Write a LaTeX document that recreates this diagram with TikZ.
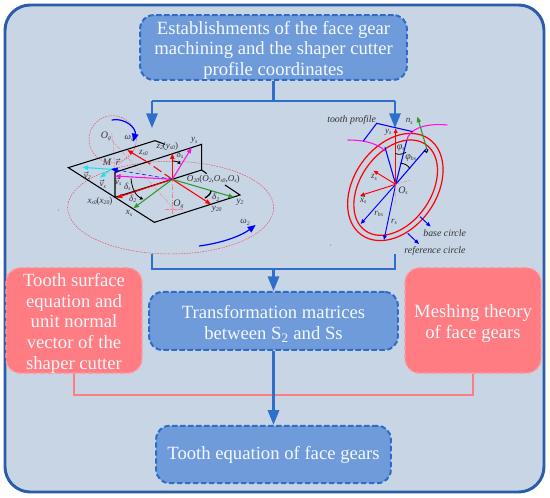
\documentclass[tikz,border=0pt]{standalone}
\usepackage{fontspec}
\setmainfont{Liberation Serif}
\usetikzlibrary{arrows.meta,calc}
\definecolor{panel}{HTML}{C8D5E5}
\definecolor{panelline}{HTML}{2A5CA8}
\definecolor{boxfill}{HTML}{6F9BDB}
\definecolor{boxline}{HTML}{2E6CC8}
\definecolor{redfill}{HTML}{FF7C82}
\definecolor{redline}{HTML}{FF9CA0}
\definecolor{link}{HTML}{2F6FCC}
\definecolor{boxtext}{HTML}{F5F8FC}
\definecolor{dgreen}{HTML}{2E9A2E}
\definecolor{vcyan}{HTML}{10E8F0}
\definecolor{vmag}{HTML}{FF10E0}
\definecolor{guidered}{HTML}{F04A5A}
\newcommand{\lb}[2]{\textit{#1}\raisebox{-0.3ex}{\fontsize{4.3}{5}\selectfont\textit{#2}}}
\newcommand{\arw}[1]{$\vec{\mbox{\textit{#1}}}$}
\newcommand{\fl}{\rule{0pt}{14pt}}
\tikzset{
  bluebox/.style={draw=boxline,fill=boxfill,line width=1.5pt,dash pattern=on 4pt off 2pt,rounded corners=10pt,
    text=boxtext,align=center,inner sep=0pt,font=\fontsize{14}{15.4}\selectfont},
  redbox/.style={draw=redline,fill=redfill,line width=1pt,dash pattern=on 4pt off 2pt,rounded corners=11pt,
    text=boxtext,align=center,inner sep=0pt,font=\fontsize{14}{15.5}\selectfont,minimum width=102pt,minimum height=79pt},
  flow/.style={draw=link,line width=1.6pt},
  flowarrow/.style={flow,-{Triangle[length=11pt,width=8.5pt]}},
  redlink/.style={draw=redfill,line width=1.3pt},
  heavy/.style={draw=black,line width=0.8pt},
  guide/.style={draw=guidered,line width=0.35pt,dash pattern=on 1.2pt off 0.8pt},
  centre/.style={draw=guidered!70,line width=0.3pt,dash pattern=on 3pt off 1pt on 1pt off 1pt},
  vec/.style={line width=0.8pt,-{Triangle[length=4.2pt,width=3.2pt]}},
  thin vec/.style={line width=0.7pt,-{Triangle[length=3.5pt,width=2.8pt]}},
  lab/.style={inner sep=0pt,font=\fontsize{6.8}{7}\selectfont,text=black!80},
  angle mark/.style={draw=black,line width=0.6pt,-{Triangle[length=2.5pt,width=2.5pt]}},
}
\begin{document}
\begin{tikzpicture}[x=0.75pt,y=-0.75pt]
\useasboundingbox (0,0) rectangle (550,498);
\fill[white] (0,0) rectangle (550,498);
\draw[draw=panelline,fill=panel,line width=2.2pt,rounded corners=19pt] (5,5) rectangle (544,492);

% boxes
\node[bluebox,minimum width=200pt,minimum height=48.5pt] (top) at (273.5,47.5) {\fl Establishments of the face gear\\machining and the shaper cutter\\profile coordinates};
\node[bluebox,minimum width=186.5pt,minimum height=43.5pt] (mid) at (273.5,321) {\fl Transformation matrices\\between S\textsubscript{2} and Ss};
\node[bluebox,minimum width=176pt,minimum height=43pt] (bot) at (273.5,454.5) {Tooth equation of face gears};
\node[redbox] (lred) at (74,320.5) {\fl Tooth surface\\equation and\\unit normal\\vector of the\\shaper cutter};
\node[redbox] (rred) at (473,320.5) {\fl Meshing theory\\of face gears};

% connectors
\coordinate (split) at (273.5,101);
\coordinate (splitL) at (152,101);
\coordinate (splitR) at (395,101);
\coordinate (tipL) at (152,128);
\coordinate (tipR) at (395,128);
\coordinate (fromL) at (152,254);
\coordinate (fromR) at (395,254);
\coordinate (joinL) at (152,269);
\coordinate (joinR) at (395,269);
\coordinate (join) at (273.5,269);
\coordinate (redL) at (lred.south |- 0,395);
\coordinate (redR) at (rred.south |- 0,395);
\draw[redlink] (lred.south) -- (redL) -- (redR) -- (rred.south);
\draw[flow] (top.south) -- (split);
\draw[flow] (splitL) -- (splitR);
\draw[flowarrow] (splitL) -- (tipL);
\draw[flowarrow] (splitR) -- (tipR);
\draw[flow] (fromL) -- (joinL) -- (joinR) -- (fromR);
\draw[flowarrow] (join) -- (mid.north);
\draw[flowarrow] (mid.south) -- (bot.north);

% left drawing, in 3x zoom coordinates
\begin{scope}[shift={(50,110)},x=0.25pt,y=-0.25pt]
  \draw[guide] (362,293) ellipse [x radius=309,y radius=139];
  \draw[guide] (188,88) circle [radius=71];
  \draw[centre] (367,205) -- (367,312);
  \draw[centre] (185,70) -- (190,100) -- (195,195);
  \draw[centre] (185,90) -- (375,300);
  \draw[centre] (205,165) -- (262,110);
  \draw[centre] (345,298) -- (400,298);
  \draw[heavy] (345,103) -- (315,92) -- (55,173) -- (313,337) -- (570,255) -- (525,225);
  \draw[heavy] (470,191) -- (455,180) -- (455,103) -- (195,187) -- (195,262) -- (455,180);
  \draw[red,line width=0.8pt,dash pattern=on 7pt off 3pt] (367,208) -- (290,155);
  \draw[red,vec] (290,155) -- (232,120);
  \draw[red,vec] (367,208) -- (367,130);
  \draw[vmag,vec] (367,208) -- (425,113);
  \draw[vmag,vec] (367,208) -- (195,198);
  \draw[red,vec] (367,208) -- (200,263);
  \draw[dgreen,vec] (367,208) -- (250,295);
  \draw[red,vec] (367,208) -- (483,283);
  \draw[dgreen,vec] (367,208) -- (552,262);
  \draw[blue,line width=0.4pt,densely dashed,-{Triangle[length=5pt,width=4pt]}] (367,208) -- (183,177);
  \draw[vcyan,vec] (183,178) -- (97,172);
  \draw[vcyan,vec] (183,178) -- (150,203);
  \draw[blue,line width=0.9pt,-{Triangle[length=6pt,width=5pt]}] (447,408) .. controls (510,400) and (570,380) .. (617,345);
  \draw[blue,line width=0.9pt,-{Triangle[length=6pt,width=5pt]}] (185,30) .. controls (225,22) and (260,55) .. (250,95);
  \draw[angle mark] (367,153) .. controls (378,153) and (386,157) .. (392,163);
  \draw[angle mark] (243,205) .. controls (245,235) and (258,258) .. (280,268);
  \draw[draw=black,line width=1pt] (465,264) .. controls (475,258) and (483,250) .. (483,243);
  \node[lab] (l1) at (352,108) {\lb{z}{2}(\lb{y}{s0})};
  \node[lab] (l2) at (433,92) {\lb{y}{s}};
  \node[lab] (l3) at (490,208) {\lb{O}{20}(\lb{O}{2},\lb{O}{s0},\lb{O}{s})};
  \node[lab] (l4) at (150,274) {\lb{x}{s0}(\lb{x}{20})};
  \node[lab] (l5) at (237,310) {\lb{x}{s}};
  \node[lab] (l6) at (500,298) {\lb{y}{20}};
  \node[lab] (l7) at (570,276) {\lb{y}{2}};
  \node[lab] (l8) at (585,337) {\lb{ω}{2}};
  \node[lab] (l9) at (172,156) {\fontsize{7.5}{8}\selectfont\textit{M}};
  \node[lab] (l10) at (203,157) {\arw{r}};
  \node[lab] (l11) at (112,197) {\arw{v}\raisebox{-0.3ex}{\fontsize{4.3}{5}\selectfont\textit{2}}};
  \node[lab] (l12) at (158,222) {\arw{v}\raisebox{-0.3ex}{\fontsize{4.3}{5}\selectfont\textit{s}}};
  \node[lab] (l13) at (205,215) {\arw{v}\raisebox{-0.3ex}{\fontsize{4.3}{5}\selectfont\textit{s}}};
  \node[lab] (l14) at (232,231) {\lb{δ}{s}};
  \node[lab] (l15) at (248,266) {\lb{δ}{2}};
  \node[lab] (l16) at (497,262) {\lb{δ}{2}};
  \node[lab] (l17) at (390,135) {\lb{δ}{s}};
  \node[lab] (l18) at (168,78) {\fontsize{7.5}{8}\selectfont\lb{O}{g}};
  \node[lab] (l19) at (385,282) {\fontsize{7.5}{8}\selectfont\lb{O}{g}};
  \node[lab] (l20) at (237,85) {\lb{ω}{s}};
  \node[lab] (l21) at (280,128) {\lb{z}{s0}};
  \fill (25,300) circle [radius=1.2];
\end{scope}

% right drawing, in 3x zoom coordinates
\begin{scope}[shift={(310,120)},x=0.25pt,y=-0.25pt]
  \draw[red,line width=0.9pt,rotate around={55:(256,201)}] (256,201) ellipse [x radius=176,y radius=124];
  \draw[red,line width=0.9pt,rotate around={55:(257,203)}] (257,203) ellipse [x radius=158,y radius=106];
  \draw[vmag,line width=0.8pt] (113,60) .. controls (150,60) and (195,65) .. (225,92);
  \draw[vmag,line width=0.8pt] (290,62) .. controls (295,30) and (340,8) .. (412,15);
  \draw[blue,line width=0.8pt] (160,63) -- (200,10) -- (308,35);
  \draw[blue,line width=0.8pt] (225,82) -- (257,193);
  \draw[blue,line width=0.8pt] (290,62) -- (257,193);
  \draw[blue,thin vec] (257,193) -- (222,360);
  \draw[blue,line width=0.8pt] (350,85) -- (257,193);
  \draw[blue,thin vec] (257,193) -- (152,312);
  \draw[dgreen,vec] (350,85) -- (322,-10);
  \draw[red,thin vec] (257,193) -- (257,25);
  \draw[red,thin vec] (257,193) -- (190,152);
  \draw[red,thin vec] (257,193) -- (150,227);
  \draw[centre] (257,193) -- (302,180);
  \draw[centre] (257,193) -- (255,255);
  \draw[blue,thin vec] (330,290) -- (362,320);
  \draw[blue,thin vec] (293,340) -- (327,372);
  \draw[black,line width=0.6pt] (255,100) .. controls (265,105) and (278,103) .. (288,97);
  \draw[black,line width=0.6pt] (272,130) .. controls (285,130) and (295,137) .. (300,147);
  \draw[black,line width=0.8pt] (342,92) -- (350,97) -- (354,88);
  \node[lab] (r1) at (125,0) {\fontsize{7.4}{8}\selectfont\textit{tooth profile}};
  \node[lab] (r2) at (235,36) {\lb{y}{s}};
  \node[lab] (r3) at (298,4) {\lb{n}{s}};
  \node[lab] (r4) at (272,84) {\fontsize{7.5}{8}\selectfont\lb{φ}{s}};
  \node[lab] (r5) at (302,114) {\fontsize{7.5}{8}\selectfont\lb{φ}{bs}};
  \node[lab] (r6) at (192,172) {\lb{z}{s}};
  \node[lab] (r7) at (279,212) {\fontsize{7.5}{8}\selectfont\lb{O}{s}};
  \node[lab] (r8) at (160,239) {\arw{x}\raisebox{-0.3ex}{\fontsize{4.3}{5}\selectfont\textit{s}}};
  \node[lab] (r9) at (206,282) {\lb{r}{bs}};
  \node[lab] (r10) at (252,305) {\lb{r}{s}};
  \node[lab] (r11) at (404,340) {\fontsize{7.4}{8}\selectfont\textit{base circle}};
  \node[lab] (r12) at (375,393) {\fontsize{7.4}{8}\selectfont\textit{reference circle}};
  \fill (62,375) circle [radius=1.2];
\end{scope}
\end{tikzpicture}
\end{document}
